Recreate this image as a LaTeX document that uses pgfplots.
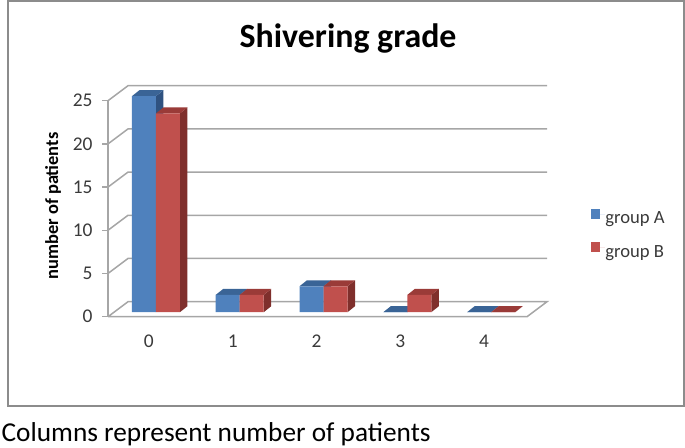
\documentclass[border=0pt]{standalone}
\usepackage{pgfplots}
\pgfplotsset{compat=1.18}
\usepackage{fontspec}
\setmainfont{Carlito}
\definecolor{fA}{HTML}{4F81BD}
\definecolor{tA}{HTML}{3A6496}
\definecolor{sA}{HTML}{2F5280}
\definecolor{fB}{HTML}{C0504D}
\definecolor{tB}{HTML}{9A3B38}
\definecolor{sB}{HTML}{7F2F2C}
\definecolor{gridc}{HTML}{A6A6A6}
\definecolor{framec}{HTML}{8C8C8C}
\definecolor{txt}{HTML}{3A3A3A}
% x offset of bar faces (0.0716), floor offset (0.52 units), depth (0.0895, 0.694 units), bar width 0.2864
\newcommand\faces[4]{%
\pgfmathsetmacro\xl{#1+0.0716}\pgfmathsetmacro\xr{\xl+0.2864}%
\pgfmathsetmacro\xd{\xr+0.0895}\pgfmathsetmacro\xe{\xl+0.0895}%
\pgfmathsetmacro\yb{0.52}\pgfmathsetmacro\yt{#2+0.52}%
\pgfmathsetmacro\ybd{\yb+0.694}\pgfmathsetmacro\ytd{\yt+0.694}%
\addplot[fill=#4,draw=none,forget plot] coordinates {(\xr,\yb) (\xd,\ybd) (\xd,\ytd) (\xr,\yt)} --cycle;
\addplot[fill=#3,draw=none,forget plot] coordinates {(\xl,\yt) (\xr,\yt) (\xd,\ytd) (\xe,\ytd)} --cycle;
}
\begin{document}
\begin{tikzpicture}[x=1bp,y=1bp]
\path[use as bounding box] (0,0) rectangle (685,448);
\draw[framec,line width=2bp] (7.5,41.5) rectangle (684,447);
\node[anchor=west,font=\fontsize{27.4}{32}\selectfont,text=black,inner sep=0pt] at (1.5,14) {Columns represent number of patients};
\begin{axis}[
  at={(108bp,131.3bp)},anchor=south west,scale only axis,
  width=419bp,height=216bp,
  xmin=-0.5,xmax=4.5,ymin=0,ymax=25,clip=false,
  axis line style={draw=none},
  ytick={0,5,10,15,20,25},xtick={0,1,2,3,4},
  ytick pos=left,xtick pos=bottom,tick align=outside,
  major tick length=6bp,
  y tick style={gridc,line width=1.5bp},x tick style={draw=none},
  tick label style={font=\fontsize{19.5}{23}\selectfont,text=txt},
  /pgf/number format/assume math mode=true,
  xticklabel style={yshift=-9bp,xshift=-1bp},
  yticklabel style={xshift=-6bp},
  every axis y label/.style={at={(axis description cs:-0.1313,0.5125)},rotate=90,anchor=center},
  ylabel={\fontsize{18.5}{22}\selectfont\bfseries number of patients},
  title style={at={(axis description cs:0.573,1.262)},anchor=center},
  title={\fontsize{34}{40}\selectfont\bfseries Shivering grade},
  legend style={draw=none,fill=none,at={(axis cs:5.26,12.48)},anchor=north west,
    font=\fontsize{18.7}{22}\selectfont,text=txt,row sep=16.5bp,inner sep=0pt,
    nodes={inner sep=0.5bp}},
  legend cell align=left,
  legend image code/.code={\fill[#1] (0bp,-4.5bp) rectangle (9.5bp,5bp);\path (0bp,0bp) -- (14bp,0bp);},
]
% walls and floor
\addplot[gridc,line width=1.5bp,forget plot] coordinates {(-0.5,0) (-0.5,25)};
\addplot[gridc,line width=1.5bp,forget plot] coordinates {(-0.5,0) (4.5,0) (4.7387,1.736) (-0.2613,1.736) (-0.5,0)};
\addplot[gridc,line width=1.5bp,forget plot] coordinates {(-0.5,5) (-0.2613,6.736) (4.7387,6.736)};
\addplot[gridc,line width=1.5bp,forget plot] coordinates {(-0.5,10) (-0.2613,11.736) (4.7387,11.736)};
\addplot[gridc,line width=1.5bp,forget plot] coordinates {(-0.5,15) (-0.2613,16.736) (4.7387,16.736)};
\addplot[gridc,line width=1.5bp,forget plot] coordinates {(-0.5,20) (-0.2613,21.736) (4.7387,21.736)};
\addplot[gridc,line width=1.5bp,forget plot] coordinates {(-0.5,25) (-0.2613,26.736) (4.7387,26.736)};
% category 0
\faces{-0.2864}{25}{tA}{sA}
\faces{0}{23}{tB}{sB}
% category 1
\faces{0.7136}{2}{tA}{sA}
\faces{1}{2}{tB}{sB}
% category 2
\faces{1.7136}{3}{tA}{sA}
\faces{2}{3}{tB}{sB}
% category 3
\faces{2.7136}{0}{tA}{sA}
\faces{3}{2}{tB}{sB}
% category 4
\faces{3.7136}{0}{tA}{sA}
\faces{4}{0}{tB}{sB}
% front faces
\addplot[ybar,bar width=0.2864,bar shift=-0.0716,yshift=4.5bp,fill=fA,draw=none]
  coordinates {(0,25) (1,2) (2,3) (3,0) (4,0)};
\addlegendentry{group A}
\addplot[ybar,bar width=0.2864,bar shift=0.2148,yshift=4.5bp,fill=fB,draw=none]
  coordinates {(0,23) (1,2) (2,3) (3,2) (4,0)};
\addlegendentry{group B}
\end{axis}
\end{tikzpicture}
\end{document}
